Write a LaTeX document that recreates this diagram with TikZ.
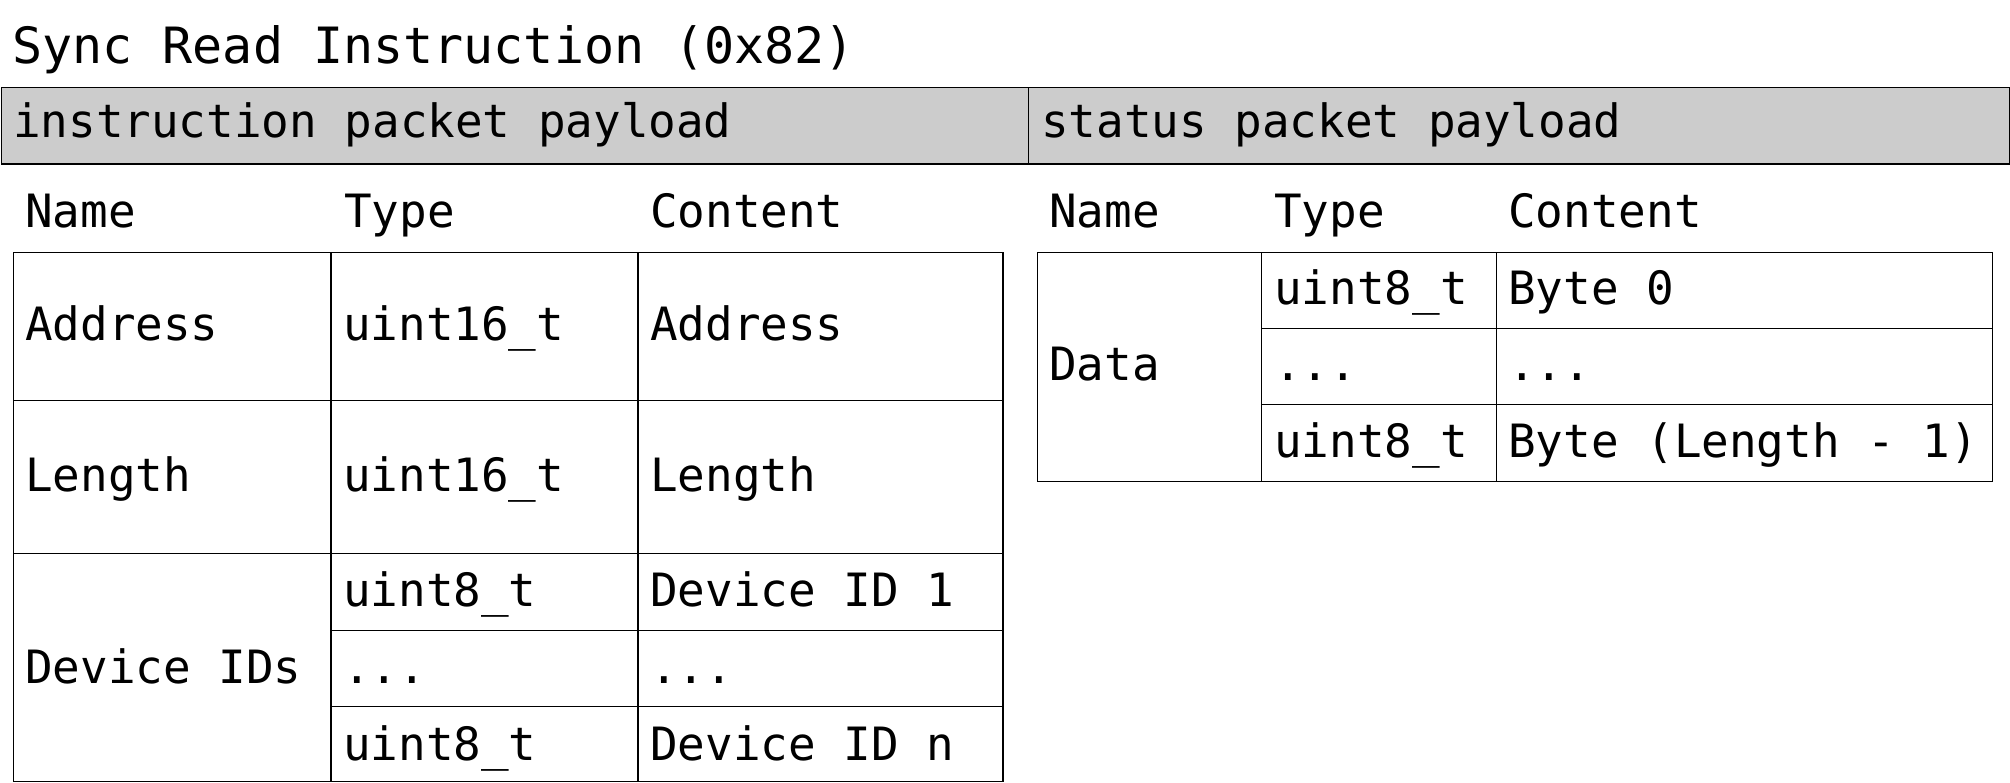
\documentclass[tikz,border=0pt]{standalone}
\usepackage{fontspec}
\newfontfamily\monofam{DejaVu Sans Mono}
\begin{document}
\begin{tikzpicture}[x=1pt,y=-1pt,
  bar/.style={draw, line width=1.4pt, fill=black!20, inner sep=0, anchor=north west},
  cell/.style={draw, line width=1.2pt, inner sep=0, anchor=north west},
  txt/.style={anchor=base west, inner sep=0, font=\monofam\fontsize{45.9}{50}\selectfont},
  ttl/.style={anchor=base west, inner sep=0, font=\monofam\fontsize{50}{55}\selectfont},
]
\useasboundingbox (0,0) rectangle (2010,783);
% title
\node[ttl] (title) at (12,63.5) {Sync Read Instruction (0x82)};
% gray bars
\node[bar, minimum width=1028pt, minimum height=76.5pt] (barL) at (0.8,86.8) {};
\node[bar, minimum width=980.5pt, minimum height=76.5pt] (barR) at (1028,86.8) {};
\node[txt] (barLt) at (13,138) {instruction packet payload};
\node[txt] (barRt) at (1041,138) {status packet payload};
% headers left
\node[txt] (hL1) at (25,228) {Name};
\node[txt] (hL2) at (344,228) {Type};
\node[txt] (hL3) at (650,228) {Content};
% headers right
\node[txt] (hR1) at (1049,228) {Name};
\node[txt] (hR2) at (1274,228) {Type};
\node[txt] (hR3) at (1508,228) {Content};
% left table cells
\node[cell, minimum width=317.5pt, minimum height=148pt] (a1) at (12.8,252) {};
\node[cell, minimum width=307pt, minimum height=148pt] (a2) at (330.3,252) {};
\node[cell, minimum width=365pt, minimum height=148pt] (a3) at (637.3,252) {};
\node[cell, minimum width=317.5pt, minimum height=153pt] (b1) at (12.8,400) {};
\node[cell, minimum width=307pt, minimum height=153pt] (b2) at (330.3,400) {};
\node[cell, minimum width=365pt, minimum height=153pt] (b3) at (637.3,400) {};
\node[cell, minimum width=317.5pt, minimum height=228pt] (c1) at (12.8,553) {};
\node[cell, minimum width=307pt, minimum height=77pt] (c2) at (330.3,553) {};
\node[cell, minimum width=365pt, minimum height=77pt] (c3) at (637.3,553) {};
\node[cell, minimum width=307pt, minimum height=76pt] (d2) at (330.3,630) {};
\node[cell, minimum width=365pt, minimum height=76pt] (d3) at (637.3,630) {};
\node[cell, minimum width=307pt, minimum height=75pt] (e2) at (330.3,706) {};
\node[cell, minimum width=365pt, minimum height=75pt] (e3) at (637.3,706) {};
% left table text
\node[txt] (ta1) at (25,340.7) {Address};
\node[txt] (ta2) at (343,340.7) {uint16\_t};
\node[txt] (ta3) at (650,340.7) {Address};
\node[txt] (tb1) at (25,491.7) {Length};
\node[txt] (tb2) at (343,491.7) {uint16\_t};
\node[txt] (tb3) at (650,491.7) {Length};
\node[txt] (tc1) at (25,683) {Device IDs};
\node[txt] (tc2) at (343,606) {uint8\_t};
\node[txt] (tc3) at (650,606) {Device ID 1};
\node[txt] (td2) at (343,683) {...};
\node[txt] (td3) at (650,683) {...};
\node[txt] (te2) at (343,760) {uint8\_t};
\node[txt] (te3) at (650,760) {Device ID n};
% right table cells
\node[cell, minimum width=224pt, minimum height=228.5pt] (r1) at (1037,252) {};
\node[cell, minimum width=234.5pt, minimum height=76pt] (r2) at (1261,252) {};
\node[cell, minimum width=496.5pt, minimum height=76pt] (r3) at (1495.5,252) {};
\node[cell, minimum width=234.5pt, minimum height=76pt] (s2) at (1261,328) {};
\node[cell, minimum width=496.5pt, minimum height=76pt] (s3) at (1495.5,328) {};
\node[cell, minimum width=234.5pt, minimum height=76.5pt] (u2) at (1261,404) {};
\node[cell, minimum width=496.5pt, minimum height=76.5pt] (u3) at (1495.5,404) {};
% right table text
\node[txt] (tr1) at (1049,381) {Data};
\node[txt] (tr2) at (1274,305) {uint8\_t};
\node[txt] (tr3) at (1508,305) {Byte 0};
\node[txt] (ts2) at (1274,381) {...};
\node[txt] (ts3) at (1508,381) {...};
\node[txt] (tu2) at (1274,457) {uint8\_t};
\node[txt] (tu3) at (1508,457) {Byte (Length - 1)};
\end{tikzpicture}
\end{document}
